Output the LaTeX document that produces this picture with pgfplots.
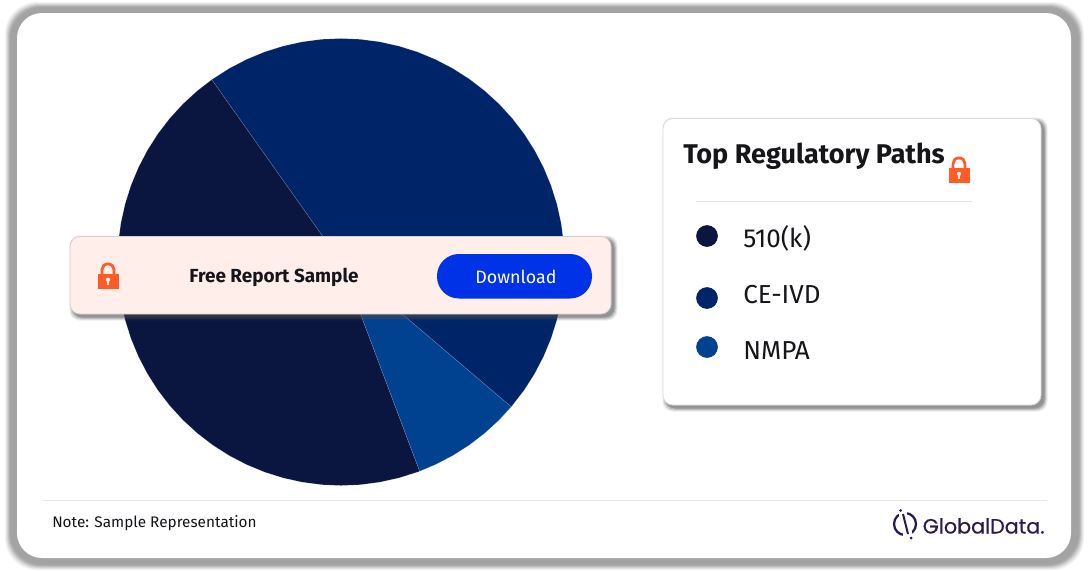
\documentclass[border=0pt]{standalone}
\usepackage{pgfplots}
\pgfplotsset{compat=1.18}
\usepgfplotslibrary{polar}
\usepackage{fontspec}
\setmainfont{Fira Sans}
\newfontfamily\logofont[FakeBold=0.3]{Poppins}
\definecolor{kk}{HTML}{0A1640}
\definecolor{ce}{HTML}{002468}
\definecolor{nm}{HTML}{004290}
\definecolor{lockc}{HTML}{FF5C28}
\definecolor{cardc}{HTML}{FFEEEA}
\definecolor{btn}{HTML}{0033E8}
\definecolor{inkc}{HTML}{15151A}
\definecolor{logoc}{HTML}{2A1A50}
\tikzset{px/.style={x=0.75pt,y=-0.75pt}}
\newcommand{\softshadow}[5]{% x1 y1 x2 y2 radius
  \foreach \g/\op in {3.5/0.10,2.5/0.16,1.5/0.22,0.5/0.30}{
    \fill[black!70,opacity=\op,rounded corners=#5*0.75pt]
      (#1+3-\g,#2+3-\g) rectangle (#3+3+\g,#4+3+\g);
  }
}
\newcommand{\lockicon}[2]{% left x, top y ; 22 x 26 px
  \begin{scope}[shift={(#1,#2)}]
    \draw[lockc,line width=2.1pt] (5,12) -- (5,7) arc[start angle=180,end angle=360,x radius=6,y radius=5.6] -- (17,12);
    \fill[lockc] (0.5,11) rectangle (21.5,26);
    \fill[cardc] (11,17.3) circle[radius=2.1];
    \fill[cardc] (10.2,18) rectangle (11.8,22);
  \end{scope}
}
\begin{document}
\begin{tikzpicture}
\begin{scope}[px]
\useasboundingbox (0,0) rectangle (1089,571);
\fill[white] (0,0) rectangle (1089,571);
% frame
\foreach \g/\op in {12/0.12,11/0.18,10/0.25,9/0.4,8/0.6,7/0.8,6/0.9}{
  \fill[black!36,opacity=\op,rounded corners=32*0.75pt]
    (17-\g,13-\g+1) rectangle (1071+\g+1,558+\g);
}
\fill[white,rounded corners=25*0.75pt] (17,13) rectangle (1071,558);
\draw[black!9,line width=0.75pt] (43,500.5) -- (1047,500.5);
\end{scope}
% pie
\begin{polaraxis}[at={(255.75pt,-196.5pt)},anchor=center,scale only axis,
  width=335.3pt,height=335.3pt,ymin=0,ymax=221,
  hide axis,clip=false]
\addplot[fill=kk,draw=white,draw opacity=0.2,line width=0.4pt] coordinates {(0,0) (125.3,221) (130,221) (135,221) (140,221) (145,221) (150,221) (155,221) (160,221) (165,221) (170,221) (175,221) (180,221) (185,221) (190,221) (195,221) (200,221) (205,221) (210,221) (215,221) (220,221) (225,221) (230,221) (235,221) (240,221) (245,221) (250,221) (255,221) (260,221) (265,221) (270,221) (275,221) (280,221) (285,221) (290,221) (290.6,221)} -- cycle;
\addplot[fill=ce,draw=white,draw opacity=0.2,line width=0.4pt] coordinates {(0,0) (-40.4,221) (-35,221) (-30,221) (-25,221) (-20,221) (-15,221) (-10,221) (-5,221) (0,221) (5,221) (10,221) (15,221) (20,221) (25,221) (30,221) (35,221) (40,221) (45,221) (50,221) (55,221) (60,221) (65,221) (70,221) (75,221) (80,221) (85,221) (90,221) (95,221) (100,221) (105,221) (110,221) (115,221) (120,221) (125.3,221)} -- cycle;
\addplot[fill=nm,draw=white,draw opacity=0.2,line width=0.4pt] coordinates {(0,0) (-69.4,221) (-65,221) (-60,221) (-55,221) (-50,221) (-45,221) (-40.4,221)} -- cycle;
\end{polaraxis}
\begin{scope}[px]
% banner
\softshadow{70}{236}{611}{314}{10}
\fill[cardc,draw=black!18,line width=0.6pt,rounded corners=7.5pt] (70,236.5) rectangle (611,314);
\lockicon{97}{262.5}
\node[anchor=base,font=\fontsize{14.2pt}{16pt}\selectfont\bfseries,text=inkc,inner sep=0] at (274,282.5) {Free Report Sample};
\fill[btn,rounded corners=16.4pt] (437,254) rectangle (592,298.5);
\node[anchor=base,font=\fontsize{13.4pt}{16pt}\selectfont,text=white,inner sep=0] at (516,283) {Download};
% legend card
\softshadow{663}{118}{1041}{405}{10}
\fill[white,draw=black!14,line width=0.6pt,rounded corners=7.5pt] (663,118.5) rectangle (1041,405);
\node[anchor=base west,font=\fontsize{20.3pt}{24pt}\selectfont\bfseries,text=inkc,inner sep=0] at (683,163) {Top Regulatory Paths};
\lockicon{948}{156.5}
\draw[black!10,line width=0.75pt] (696,201.5) -- (972,201.5);
\node[anchor=base west,font=\fontsize{19.5pt}{22pt}\selectfont,text=inkc,inner sep=0] at (743,247) {510(k)};
\node[anchor=base west,font=\fontsize{19.5pt}{22pt}\selectfont,text=inkc,inner sep=0] at (743,303) {CE-IVD};
\node[anchor=base west,font=\fontsize{19.5pt}{22pt}\selectfont,text=inkc,inner sep=0] at (743,359) {NMPA};
\end{scope}
% legend dots
\begin{axis}[at={(0pt,-428.25pt)},anchor=south west,scale only axis,width=816.75pt,height=428.25pt,
  xmin=0,xmax=1089,ymin=0,ymax=571,y dir=reverse,hide axis,clip=false]
\addplot[only marks,mark=*,mark size=7.9pt,mark options={fill=kk,draw=kk}] coordinates {(707,236)};
\addplot[only marks,mark=*,mark size=7.9pt,mark options={fill=ce,draw=ce}] coordinates {(707,298)};
\addplot[only marks,mark=*,mark size=7.9pt,mark options={fill=nm,draw=nm}] coordinates {(707,347)};
\end{axis}
\begin{scope}[px]
% footer
\node[anchor=base west,font=\fontsize{11.5pt}{14pt}\selectfont,text=inkc,inner sep=0] at (52,527) {Note: Sample Representation};
\draw[logoc,line width=1.7pt] (905,524) circle[radius=11];
\fill[white] (899,511) rectangle (907,517);
\fill[white] (903,531) rectangle (912,537);
\draw[white,line width=3pt] (902.5,515) -- (908,534);
\draw[logoc,line width=1.5pt] (903,514) -- (908,534);
\fill[logoc] (900.5,510.5) circle[radius=1.5];
\fill[logoc] (911,538) circle[radius=1.5];
\node[anchor=base west,font=\fontsize{15.5pt}{20pt}\selectfont\logofont,text=logoc,inner sep=0] at (922.5,533.5) {GlobalData.};
\end{scope}
\end{tikzpicture}
\end{document}
